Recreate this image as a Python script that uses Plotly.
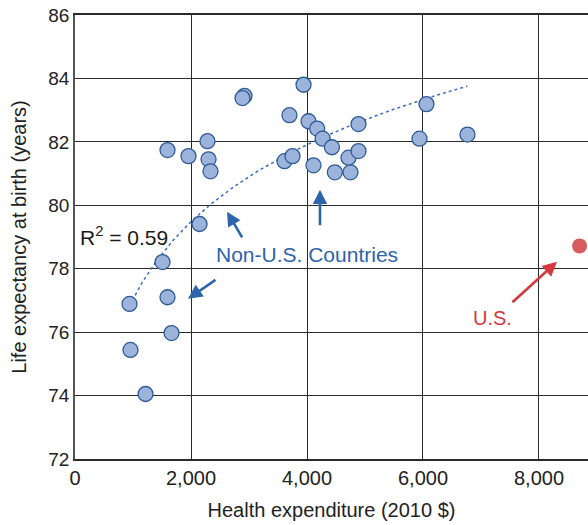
import numpy as np
import plotly.graph_objects as go

# Health expenditure per capita (2010 $) and life expectancy at birth (years)
other_spend = [940, 957, 1216, 1509, 1595, 1595, 1664, 1957, 2147, 2284, 2302, 2336,
               2922, 2888, 3940, 3698, 3612, 3750, 4026, 4175, 4270, 4430, 4112,
               4480, 4750, 4716, 4888, 4888, 6060, 5940, 6767]
other_life = [76.89, 75.44, 74.05, 78.21, 81.74, 77.10, 75.97, 81.55, 79.41, 82.02,
              81.45, 81.07, 83.45, 83.38, 83.80, 82.84, 81.39, 81.55, 82.65, 82.42,
              82.10, 81.83, 81.26, 81.04, 81.04, 81.50, 81.71, 82.56, 83.19, 82.10,
              82.23]
us_spend = [8700]
us_life = [78.72]

x_ticks = [0, 2000, 4000, 6000, 8000]
x_tick_labels = ["0", "2,000", "4,000", "6,000", "8,000"]
y_ticks = [72, 74, 76, 78, 80, 82, 84, 86]

BLUE_FILL = "#9cb4db"
BLUE_EDGE = "#2f5a97"
BLUE_TEXT = "#2e63ad"
RED = "#d3393f"
RED_FILL = "#d65c5e"
FONT = "Liberation Sans, Arial, sans-serif"

# Logarithmic trend fitted to the non-U.S. countries
lx = np.log(other_spend)
b, a = np.polyfit(lx, other_life, 1)
fit_x = np.linspace(min(other_spend), max(other_spend), 120)
fit_y = a + b * np.log(fit_x)

fig = go.Figure()
fig.add_trace(go.Scatter(
    x=fit_x, y=fit_y, mode="lines",
    line=dict(color="#3a6cc0", width=1.5, dash="dot"),
    hoverinfo="skip", showlegend=False))
fig.add_trace(go.Scatter(
    x=other_spend, y=other_life, mode="markers",
    marker=dict(size=15, color=BLUE_FILL, line=dict(color=BLUE_EDGE, width=1.3)),
    showlegend=False))
fig.add_trace(go.Scatter(
    x=us_spend, y=us_life, mode="markers",
    marker=dict(size=15, color=RED_FILL, line=dict(color=RED_FILL, width=0)),
    cliponaxis=False, showlegend=False))

def arrow(x, y, ax, ay, color):
    fig.add_annotation(x=x, y=y, ax=ax, ay=ay, xref="x", yref="y",
                       axref="x", ayref="y", text="", showarrow=True,
                       arrowhead=2, arrowsize=1.1, arrowwidth=2.6,
                       arrowcolor=color)

arrow(2621, 79.80, 2897, 78.94, BLUE_TEXT)
arrow(1948, 77.05, 2448, 77.68, BLUE_TEXT)
arrow(4224, 80.49, 4224, 79.32, BLUE_TEXT)
arrow(8310, 78.22, 7517, 76.90, RED)

fig.add_annotation(x=4000, y=78.44, xref="x", yref="y", text="Non-U.S. Countries",
                   showarrow=False, font=dict(family=FONT, size=21, color=BLUE_TEXT))
fig.add_annotation(x=45, y=79.02, xref="x", yref="y", xanchor="left",
                   text="R<sup>2</sup> = 0.59", showarrow=False,
                   font=dict(family=FONT, size=21, color="#1a1a1a"))
fig.add_annotation(x=7190, y=76.46, xref="x", yref="y", text="U.S.",
                   showarrow=False, font=dict(family=FONT, size=20, color=RED))

fig.update_layout(
    width=588, height=525,
    margin=dict(l=75, r=0, t=15, b=66),
    paper_bgcolor="white", plot_bgcolor="white",
    font=dict(family=FONT, size=20, color="#222222"),
    xaxis=dict(range=[0, 8845], tickvals=x_ticks, ticktext=x_tick_labels,
               showgrid=True, gridcolor="#2a2a2a", gridwidth=1.4,
               showline=True, linecolor="#2a2a2a", linewidth=1.6, mirror=True,
               zeroline=False, ticks="", ticklen=0, tickfont=dict(size=20),
               title=dict(text="Health expenditure (2010 $)", standoff=15,
                          font=dict(size=20))),
    yaxis=dict(range=[72, 86], tickvals=y_ticks,
               showgrid=True, gridcolor="#2a2a2a", gridwidth=1.4,
               showline=True, linecolor="#555555", linewidth=1.6,
               zeroline=False, ticks="", ticklen=0, tickfont=dict(size=19),
               title=dict(text="Life expectancy at birth (years)", standoff=16,
                          font=dict(size=20))),
)

fig.write_html("out.html")
